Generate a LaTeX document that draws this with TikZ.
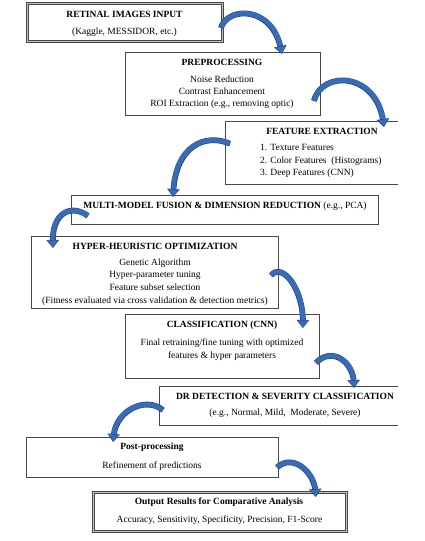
\documentclass[tikz,border=0pt]{standalone}
\usepackage{fontspec}
\setmainfont{Liberation Serif}
\usetikzlibrary{arrows.meta,calc}
\definecolor{arrowblue}{RGB}{58,108,182}
\definecolor{arrowedge}{RGB}{34,72,140}
\definecolor{boxline}{RGB}{72,72,72}
\begin{document}
\begin{tikzpicture}[x=1pt,y=-1pt,
  box/.style={draw=boxline,line width=0.9pt,anchor=north west,inner sep=0pt},
  openbox/.style={anchor=north west,inner sep=0pt},
  heavybox/.style={draw=black!72,double=gray!50,double distance=1pt,line width=0.8pt,anchor=north west,inner sep=0pt},
  ttl/.style={font=\fontsize{9.5}{12}\selectfont\bfseries,inner sep=0pt},
  txt/.style={font=\fontsize{9.5}{12.2}\selectfont,inner sep=0pt,align=center},
  flow/.style={line width=4.6pt,draw=arrowblue,
    preaction={draw=arrowedge,line width=5.8pt,-,shorten >=6pt},
    -{Triangle[length=8pt,width=12.5pt,fill=arrowblue,color=arrowedge,line width=0.5pt]}}
]
\useasboundingbox (0,0) rectangle (425,541);
% boxes
\node[heavybox,minimum width=195pt,minimum height=38pt] (b1) at (27,3) {};
\node[box,minimum width=195pt,minimum height=63pt] (b2) at (125,52) {};
\node[openbox,minimum width=173pt,minimum height=63pt] (b3) at (225,121) {};
\draw[draw=boxline,line width=0.9pt] (b3.north east) -- (b3.north west) -- (b3.south west) -- (b3.south east);
\node[box,minimum width=307pt,minimum height=29pt] (b4) at (71,195) {};
\node[box,minimum width=247pt,minimum height=72pt] (b5) at (31,236) {};
\node[box,minimum width=194pt,minimum height=64pt] (b6) at (125,314) {};
\node[openbox,minimum width=239pt,minimum height=39pt] (b7) at (159,386) {};
\draw[draw=boxline,line width=0.9pt] (b7.north east) -- (b7.north west) -- (b7.south west) -- (b7.south east);
\node[box,minimum width=252pt,minimum height=40pt] (b8) at (26,437) {};
\node[heavybox,minimum width=253pt,minimum height=39pt] (b9) at (93,492) {};
% texts
\node[ttl] (t1) at (124.5,14) {RETINAL IMAGES INPUT};
\node[txt] (s1) at (124.5,32) {(Kaggle, MESSIDOR, etc.)};
\node[ttl] (t2) at (222,62) {PREPROCESSING};
\node[txt] (s2) at (222,92) {Noise Reduction\\Contrast Enhancement\\ROI Extraction (e.g., removing optic)};
\node[ttl] (t3) at (322,131) {FEATURE EXTRACTION};
\node[txt,align=left,anchor=west] (s3) at (260,161) {1. Texture Features\\2. Color Features~ (Histograms)\\3. Deep Features (CNN)};
\node[txt] (t4) at (225,206) {\textbf{MULTI-MODEL FUSION \& DIMENSION REDUCTION} (e.g., PCA)};
\node[ttl] (t5) at (155,246) {HYPER-HEURISTIC OPTIMIZATION};
\node[txt,font=\fontsize{9.5}{12.6}\selectfont] (s5) at (155,282) {Genetic Algorithm\\Hyper-parameter tuning\\Feature subset selection\\(Fitness evaluated via cross validation \& detection metrics)};
\node[ttl] (t6) at (222,325) {CLASSIFICATION (CNN)};
\node[txt,font=\fontsize{9.5}{13}\selectfont] (s6) at (222,349.5) {Final retraining/fine tuning with optimized\\features \& hyper parameters};
\node[ttl] (t7) at (285,396) {DR DETECTION \& SEVERITY CLASSIFICATION};
\node[txt] (s7) at (285,413) {(e.g., Normal, Mild,~ Moderate, Severe)};
\node[ttl] (t8) at (152,447) {Post-processing};
\node[txt] (s8) at (152,466) {Refinement of predictions};
\node[ttl] (t9) at (219,502) {Output Results for Comparative Analysis};
\node[txt] (s9) at (219.5,520) {Accuracy, Sensitivity, Specificity, Precision, F1-Score};
% arrows
\draw[flow] ($(b1.north east)+(-2,25)$) .. controls (228,6) and (272,6) .. ($(b2.north east)+(-39,2)$);
\draw[flow] ($(b2.south east)+(-7,-15)$) .. controls (322,70) and (376,72) .. ($(b3.north west)+(159,6)$);
\draw[flow] ($(b3.west)+(5,-9)$) .. controls (205,133) and (176,146) .. ($(b4.north west)+(102,2)$);
\draw[flow] ($(b4.south west)+(17,-9)$) .. controls (70,203) and (52,214) .. ($(b5.north west)+(22,12)$);
\draw[flow] ($(b5.east)+(-8,3)$) .. controls (282,262) and (303,288) .. ($(b6.north east)+(-17,14)$);
\draw[flow] ($(b6.south east)+(-4,-16)$) .. controls (332,346) and (353,362) .. ($(b7.north west)+(195,2)$);
\draw[flow] ($(b7.west)+(4,4.5)$) .. controls (146,396) and (116,410) .. ($(b8.north west)+(87,5)$);
\draw[flow] ($(b8.east)+(-2,10)$) .. controls (293,453) and (314,472) .. ($(b9.north east)+(-31,5)$);
\end{tikzpicture}
\end{document}
